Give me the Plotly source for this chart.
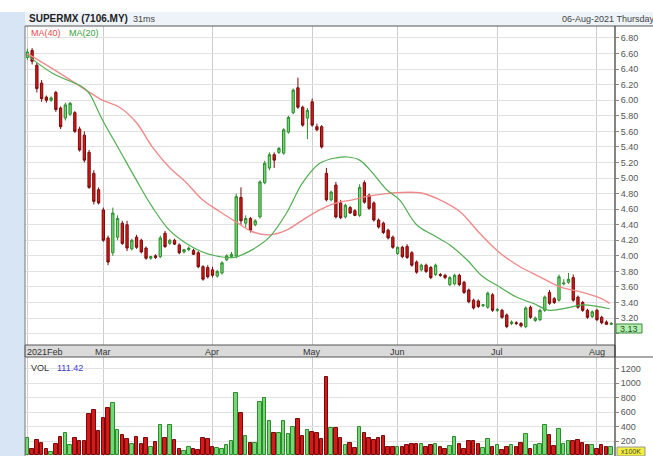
import plotly.graph_objects as go

W, H = 653, 456

# ---------------- data ----------------
feb_days = [3, 4, 5, 8, 9, 10, 11, 16, 17, 18, 19, 22, 23, 24, 25, 26]
mar_days = [1, 2, 3, 4, 5, 8, 9, 10, 11, 12, 15, 16, 17, 18, 19, 22, 23, 24, 25, 26, 29, 30, 31]
apr_days = [1, 5, 6, 7, 8, 9, 12, 13, 14, 15, 16, 19, 20, 21, 22, 23, 26, 27, 28, 29, 30]
may_days = [3, 4, 5, 6, 7, 10, 11, 12, 17, 18, 19, 20, 21, 24, 25, 27, 28, 31]
jun_days = [1, 2, 3, 4, 8, 9, 10, 11, 14, 15, 16, 17, 18, 21, 22, 23, 24, 25, 28, 29, 30]
jul_days = [1, 2, 5, 6, 7, 8, 9, 12, 13, 14, 15, 16, 19, 21, 22, 23, 26, 27, 28, 29, 30]
aug_days = [2, 3, 4, 5]

opens = [
    6.55, 6.64, 6.45, 6.22, 6.04, 6.00, 6.10, 5.90, 5.77, 5.82, 5.84, 5.63, 5.55, 5.33, 5.06, 4.85,
    4.59, 4.23, 4.04, 4.24, 4.42, 4.40, 4.09, 4.24, 4.20, 4.10, 3.97, 4.00, 3.99, 4.29, 4.16, 4.20, 4.14, 4.05, 4.08, 4.07, 4.04, 3.86, 3.85,
    3.82, 3.74, 3.78, 3.95, 3.99, 4.00, 4.75, 4.42, 4.48, 4.40, 4.50, 4.94, 5.13, 5.30, 5.33, 5.32, 5.59, 5.84, 6.16, 5.91, 5.77,
    5.98, 5.66, 5.66, 5.06, 4.72, 4.91, 4.68, 4.50, 4.62, 4.58, 4.52, 4.94, 4.78, 4.68, 4.46, 4.42, 4.33, 4.24,
    4.03, 4.11, 4.12, 4.04, 3.92, 3.82, 3.88, 3.85, 3.76, 3.76, 3.75, 3.63, 3.64, 3.75, 3.66, 3.56, 3.43, 3.42, 3.36, 3.34, 3.50,
    3.30, 3.30, 3.24, 3.13, 3.14, 3.13, 3.09, 3.34, 3.17, 3.18, 3.30, 3.53, 3.45, 3.43, 3.64, 3.66, 3.72, 3.47, 3.40, 3.30, 3.22,
    3.30, 3.21, 3.15, 3.12,
]
highs = [
    6.66, 6.67, 6.48, 6.26, 6.06, 6.05, 6.12, 5.92, 5.97, 5.98, 5.86, 5.66, 5.60, 5.36, 5.10, 4.88,
    4.62, 4.26, 4.62, 4.52, 4.45, 4.45, 4.22, 4.27, 4.22, 4.12, 4.00, 4.02, 4.26, 4.32, 4.22, 4.22, 4.16, 4.09, 4.12, 4.09, 4.06, 3.88, 3.88,
    3.86, 3.82, 3.93, 4.02, 4.05, 4.80, 4.88, 4.52, 4.50, 4.47, 4.97, 5.22, 5.33, 5.33, 5.40, 5.64, 5.80, 6.15, 6.29, 5.93, 5.90,
    6.02, 5.70, 5.68, 5.13, 4.84, 4.95, 4.72, 4.67, 4.64, 4.60, 4.92, 4.97, 4.80, 4.70, 4.48, 4.44, 4.35, 4.26,
    4.12, 4.13, 4.15, 4.06, 3.94, 3.90, 3.90, 3.87, 3.90, 3.78, 3.77, 3.74, 3.77, 3.77, 3.68, 3.58, 3.45, 3.44, 3.38, 3.54, 3.52,
    3.33, 3.32, 3.26, 3.17, 3.16, 3.15, 3.35, 3.36, 3.22, 3.32, 3.49, 3.56, 3.47, 3.76, 3.70, 3.78, 3.76, 3.49, 3.42, 3.32, 3.30,
    3.32, 3.23, 3.17, 3.15,
]
lows = [
    6.52, 6.46, 6.10, 5.98, 5.97, 5.98, 5.85, 5.63, 5.74, 5.80, 5.58, 5.34, 5.20, 4.86, 4.66, 4.66,
    4.18, 3.88, 4.00, 4.20, 4.14, 4.06, 4.07, 4.09, 4.03, 3.95, 3.95, 3.96, 3.97, 4.10, 4.14, 4.14, 4.02, 4.03, 4.06, 4.01, 3.84, 3.68, 3.71,
    3.72, 3.72, 3.76, 3.93, 3.97, 3.97, 4.40, 4.36, 4.30, 4.38, 4.48, 4.92, 5.10, 5.13, 5.31, 5.30, 5.57, 5.82, 5.89, 5.66, 5.50,
    5.66, 5.60, 5.38, 4.70, 4.70, 4.48, 4.47, 4.48, 4.54, 4.51, 4.50, 4.67, 4.59, 4.44, 4.35, 4.28, 4.21, 4.09,
    4.01, 3.97, 3.96, 3.86, 3.77, 3.80, 3.78, 3.70, 3.74, 3.73, 3.70, 3.61, 3.62, 3.61, 3.51, 3.39, 3.31, 3.33, 3.34, 3.32, 3.28,
    3.28, 3.19, 3.07, 3.11, 3.11, 3.08, 3.07, 3.19, 3.15, 3.16, 3.28, 3.37, 3.38, 3.41, 3.62, 3.64, 3.41, 3.32, 3.28, 3.19, 3.20,
    3.16, 3.12, 3.11, 3.11,
]
closes = [
    6.62, 6.50, 6.15, 6.02, 6.00, 6.03, 5.88, 5.66, 5.94, 5.96, 5.60, 5.36, 5.23, 4.88, 4.70, 4.68,
    4.20, 3.92, 4.55, 4.48, 4.16, 4.10, 4.20, 4.11, 4.05, 3.97, 3.99, 3.98, 4.23, 4.12, 4.20, 4.15, 4.04, 4.08, 4.10, 4.02, 3.86, 3.70, 3.73,
    3.75, 3.80, 3.91, 4.00, 4.02, 4.76, 4.45, 4.48, 4.33, 4.45, 4.95, 5.19, 5.30, 5.23, 5.38, 5.62, 5.78, 6.13, 5.91, 5.68, 5.87,
    5.68, 5.62, 5.40, 4.72, 4.82, 4.50, 4.49, 4.65, 4.55, 4.52, 4.88, 4.69, 4.61, 4.46, 4.37, 4.30, 4.23, 4.11,
    4.11, 3.99, 3.98, 3.88, 3.79, 3.88, 3.80, 3.72, 3.88, 3.75, 3.72, 3.72, 3.75, 3.63, 3.53, 3.41, 3.33, 3.35, 3.37, 3.52, 3.30,
    3.31, 3.21, 3.09, 3.15, 3.13, 3.10, 3.33, 3.21, 3.20, 3.30, 3.47, 3.39, 3.40, 3.73, 3.65, 3.70, 3.43, 3.34, 3.30, 3.21, 3.28,
    3.18, 3.14, 3.12, 3.13,
]
volumes = [  # x100K
    245, 90, 214, 177, 90, 52, 159, 260, 315, 145, 245, 200, 205, 568, 628, 338,
    517, 655, 728, 352, 283, 228, 159, 260, 159, 241, 122, 190, 416, 241, 420, 214, 90, 67, 122, 90, 75, 241, 228,
    122, 98, 90, 145, 200, 858, 590, 269, 168, 168, 733, 789, 476, 306, 306, 476, 292, 398, 508, 269, 352,
    329, 315, 228, 1087, 375, 375, 241, 145, 168, 98, 389, 315, 241, 214, 241, 269, 122, 122,
    122, 113, 145, 159, 159, 159, 122, 145, 163, 122, 90, 131, 255, 163, 90, 200, 200, 159, 98, 228, 122,
    145, 75, 122, 145, 122, 177, 297, 90, 145, 159, 420, 283, 136, 365, 159, 200, 205, 214, 177, 145, 145,
    90, 145, 122, 122,
]

# moving averages (bar position, value)
ma20_pos = [0, 5.2, 11.6, 13, 15.8, 19.4, 23, 26.3, 29.9, 33.5, 36.9, 40.5, 43.6, 47.4, 51, 54.6, 58,
            61.6, 65.1, 67.5, 70, 72.8, 75.7, 78.4, 82, 85.4, 89, 92.6, 96, 99.5, 103, 106.5, 110,
            113.7, 117, 122.7]
ma20_val = [6.58, 6.35, 6.17, 6.09, 5.75, 5.36, 4.97, 4.63, 4.33, 4.16, 4.05, 3.99, 3.98, 4.08, 4.24,
            4.55, 4.94, 5.19, 5.26, 5.27, 5.23, 5.06, 4.85, 4.72, 4.40, 4.27, 4.14, 3.95, 3.73, 3.60,
            3.47, 3.39, 3.30, 3.33, 3.37, 3.32]
ma40_pos = [0, 5.2, 12.4, 15.8, 19.4, 23, 26.3, 29.9, 33.5, 36.9, 40.5, 44.1, 47.4, 51, 54.6, 58,
            61.6, 65.1, 68.5, 72.1, 75.7, 82.7, 86.9, 91.1, 95.3, 99.5, 103.8, 108, 112.2, 116.4,
            120.6, 122.7]
ma40_val = [6.60, 6.41, 6.13, 6.00, 5.91, 5.71, 5.40, 5.14, 4.94, 4.72, 4.57, 4.43, 4.31, 4.27, 4.33,
            4.46, 4.59, 4.68, 4.72, 4.77, 4.80, 4.81, 4.72, 4.57, 4.29, 4.04, 3.86, 3.73, 3.60, 3.54,
            3.46, 3.39]

month_labels = ["2021Feb", "Mar", "Apr", "May", "Jun", "Jul", "Aug"]
price_ticks = [3.0, 3.2, 3.4, 3.6, 3.8, 4.0, 4.2, 4.4, 4.6, 4.8, 5.0, 5.2, 5.4, 5.6, 5.8, 6.0, 6.2, 6.4, 6.6, 6.8]
vol_ticks = [200, 400, 600, 800, 1000, 1200]
last_price = "3.13"
vol_ma_text = "111.42"

# ---------------- derived ----------------
months = [(2, feb_days), (3, mar_days), (4, apr_days), (5, may_days), (6, jun_days), (7, jul_days), (8, aug_days)]
dates = []
month_start = []
for m, days in months:
    month_start.append(len(dates))
    dates += ["2021-%02d-%02d" % (m, d) for d in days]
idx = list(range(len(dates)))

GREEN_F, GREEN_L = "#74d674", "#2c8c2c"
RED_F, RED_L = "#d41a1a", "#7a0a0a"
vol_fill = [GREEN_F if c >= o else RED_F for o, c in zip(opens, closes)]
vol_line = [GREEN_L if c >= o else RED_L for o, c in zip(opens, closes)]


def px(x):
    return x / W


def py(y):
    return 1 - y / H


FONT = "Liberation Sans"

fig = go.Figure()
fig.add_trace(go.Scatter(x=ma40_pos, y=ma40_val, mode="lines", line=dict(color="#f08a8a", width=1.4, shape="spline"),
                         hoverinfo="skip", xaxis="x", yaxis="y"))
fig.add_trace(go.Scatter(x=ma20_pos, y=ma20_val, mode="lines", line=dict(color="#4fae4f", width=1.2, shape="spline"),
                         hoverinfo="skip", xaxis="x", yaxis="y"))
fig.add_trace(go.Candlestick(
    x=idx, open=opens, high=highs, low=lows, close=closes,
    increasing=dict(fillcolor=GREEN_F, line=dict(color=GREEN_L, width=1)),
    decreasing=dict(fillcolor=RED_F, line=dict(color=RED_L, width=1)),
    whiskerwidth=0, hoverinfo="skip", xaxis="x", yaxis="y"))
fig.add_trace(go.Bar(x=idx, y=volumes, marker=dict(color=vol_fill, line=dict(color=vol_line, width=1)),
                     width=0.74, hoverinfo="skip", xaxis="x2", yaxis="y2"))

xcommon = dict(domain=[px(25), px(615)], range=[-0.5, 123.8], tickvals=month_start, showticklabels=False,
               showgrid=True, gridcolor="#cdcdcd", gridwidth=1, zeroline=False, showline=False, ticks="",
               fixedrange=True)

fig.update_layout(
    width=W, height=H, margin=dict(l=0, r=0, t=0, b=0),
    paper_bgcolor="white", plot_bgcolor="white", showlegend=False, bargap=0,
    font=dict(family=FONT, size=9, color="#444"),
    xaxis=dict(**xcommon, anchor="y", rangeslider=dict(visible=False)),
    xaxis2=dict(**xcommon, anchor="y2"),
    yaxis=dict(domain=[py(345), py(26)], range=[2.854, 6.954], side="right", anchor="x",
               tickvals=price_ticks, ticktext=["" if v == 3.0 else "%.2f" % v for v in price_ticks],
               ticks="outside", ticklen=3, tickcolor="#888", gridcolor="#e2e2e2", zeroline=False,
               tickfont=dict(size=9, color="#555"), fixedrange=True),
    yaxis2=dict(domain=[0, py(357)], range=[-7, 1359], side="right", anchor="x2",
                tickvals=vol_ticks, ticks="outside", ticklen=3, tickcolor="#888", gridcolor="#e2e2e2",
                zeroline=False, tickfont=dict(size=9, color="#555"), fixedrange=True),
)

shapes = [
    # left blue strip and header background
    dict(type="rect", xref="paper", yref="paper", x0=0, x1=px(25), y0=0, y1=py(12),
         fillcolor="#d7e5f5", line=dict(width=0), layer="below"),
    dict(type="rect", xref="paper", yref="paper", x0=px(25), x1=1, y0=py(26), y1=py(12),
         fillcolor="#eef3fa", line=dict(width=0), layer="below"),
    # date band
    dict(type="rect", xref="paper", yref="paper", x0=px(25), x1=px(615), y0=py(357), y1=py(345),
         fillcolor="#dadada", line=dict(color="#555", width=1)),
    # frame lines
    dict(type="line", xref="paper", yref="paper", x0=px(25), x1=1, y0=py(26), y1=py(26),
         line=dict(color="#555", width=1.2)),
    dict(type="line", xref="paper", yref="paper", x0=px(25), x1=px(25), y0=0, y1=py(26),
         line=dict(color="#777", width=1)),
    dict(type="line", xref="paper", yref="paper", x0=px(615), x1=px(615), y0=0, y1=py(26),
         line=dict(color="#333", width=1.2)),
    dict(type="line", xref="paper", yref="paper", x0=px(615), x1=1, y0=py(357), y1=py(357),
         line=dict(color="#555", width=1.2)),
    # last price box
    dict(type="rect", xref="paper", yref="paper", x0=px(616), x1=px(642), y0=py(333), y1=py(324),
         fillcolor="#b7efb2", line=dict(color="#3a8a3a", width=1)),
    # x100K box
    dict(type="rect", xref="paper", yref="paper", x0=px(617), x1=px(645), y0=py(456), y1=py(447),
         fillcolor="#f2ee3a", line=dict(color="#999", width=1)),
]
fig.update_layout(shapes=shapes)

ann = []


def text(x, y, s, color="#444", size=9, anchor="left", bold=False):
    ann.append(dict(xref="paper", yref="paper", x=px(x), y=py(y), text=("<b>%s</b>" % s) if bold else s,
                    showarrow=False, xanchor=anchor, yanchor="middle",
                    font=dict(family=FONT, size=size, color=color)))


text(27, 19, "SUPERMX (7106.MY)", color="#222", size=10, bold=True)
text(131, 19, "31ms", color="#444", size=9)
text(560, 19, "06-Aug-2021 Thursday", color="#444", size=9)
text(29, 33, "MA(40)", color="#e84a4a", size=9)
text(67, 33, "MA(20)", color="#3aa03a", size=9)
text(29, 368, "VOL", color="#333", size=9)
text(55, 368, vol_ma_text, color="#3c3ccc", size=9)
text(629, 328.5, last_price, color="#225522", size=9, anchor="center")
text(631, 451.5, "x100K", color="#444", size=7, anchor="center")

# month labels in the date band
x_per_bar = (615 - 25) / (123.8 + 0.5)
for lab, i in zip(month_labels, month_start):
    xpix = 25 + (i + 0.5) * x_per_bar
    if i == 0:
        text(25, 351.5, lab, color="#333", size=9)
    else:
        text(xpix, 351.5, lab, color="#333", size=9, anchor="center")

fig.update_layout(annotations=ann)
fig.write_html("out.html", config={"displayModeBar": False},
               post_script="document.body.style.margin='0';document.body.style.overflow='hidden';")
